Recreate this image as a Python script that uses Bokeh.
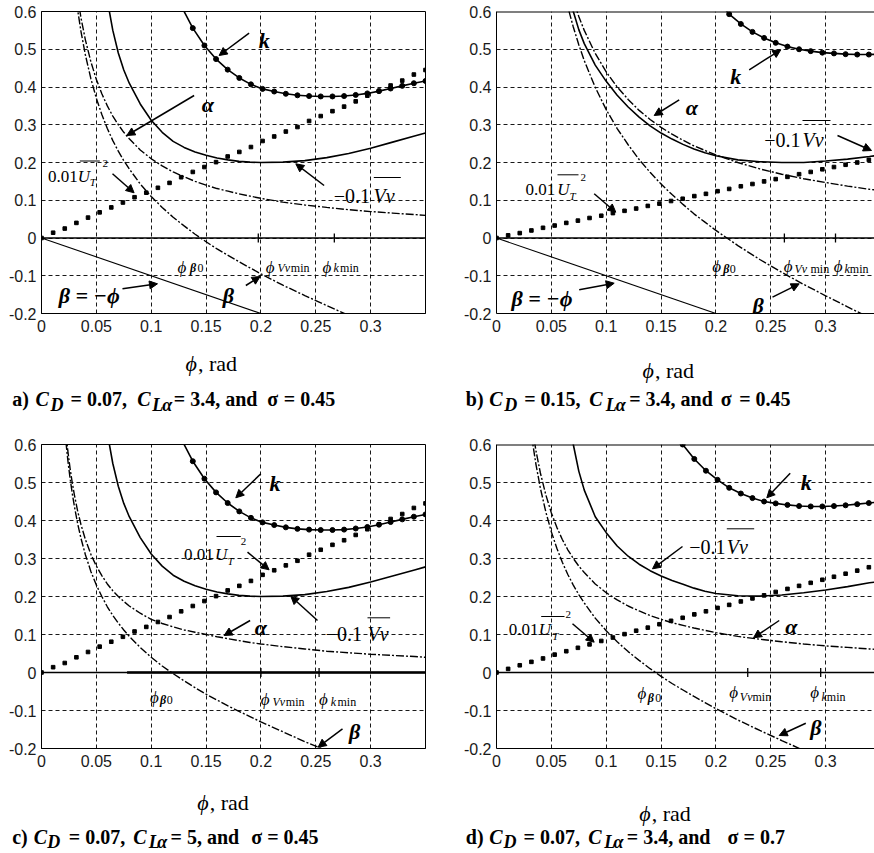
import math
from bokeh.plotting import figure
from bokeh.models import Range1d, FixedTicker, Label, Arrow, NormalHead, Span
from bokeh.layouts import column, row
from bokeh.embed import file_html
from bokeh.resources import INLINE

SERIF = "Liberation Serif"
SANS = "Liberation Sans"

# ---------------- data ----------------
x_ticks = [0, 0.05, 0.1, 0.15, 0.2, 0.25, 0.3]
x_tick_labels = ["0", "0.05", "0.1", "0.15", "0.2", "0.25", "0.3"]
y_ticks = [-0.2, -0.1, 0, 0.1, 0.2, 0.3, 0.4, 0.5, 0.6]
y_tick_labels = ["-0.2", "-0.1", "0", "0.1", "0.2", "0.3", "0.4", "0.5", "0.6"]

phi_samples = [0.0, 0.0106, 0.0212, 0.0318, 0.0424, 0.053, 0.0636, 0.0742, 0.0848, 0.0955,
               0.1061, 0.1167, 0.1273, 0.1379, 0.1485, 0.1591, 0.1697, 0.1803, 0.1909, 0.2015,
               0.2121, 0.2227, 0.2333, 0.2439, 0.2545, 0.2652, 0.2758, 0.2864, 0.297, 0.3076,
               0.3182, 0.3288, 0.3394, 0.35]
phi_fine = [0.02, 0.022, 0.024, 0.026, 0.028, 0.03, 0.033, 0.036, 0.04, 0.045, 0.05, 0.055,
            0.06, 0.065, 0.07, 0.075, 0.08, 0.09, 0.1, 0.11, 0.12, 0.13, 0.14, 0.15, 0.16,
            0.17, 0.18, 0.19, 0.2, 0.22, 0.24, 0.26, 0.28, 0.3, 0.32, 0.34, 0.35]

beta_neg_phi = [0.0, 0.2]
beta_neg_vals = [0.0, -0.2]

# panel a
a_alpha = [1.05, 0.955, 0.875, 0.808, 0.75, 0.7, 0.636, 0.583, 0.525, 0.467, 0.42, 0.382,
           0.35, 0.323, 0.3, 0.28, 0.263, 0.233, 0.21, 0.191, 0.175, 0.162, 0.15, 0.14, 0.131,
           0.124, 0.117, 0.111, 0.105, 0.095, 0.0875, 0.081, 0.075, 0.07, 0.066, 0.062, 0.06]
a_beta = [1.03, 0.933, 0.851, 0.782, 0.722, 0.67, 0.603, 0.547, 0.485, 0.422, 0.37, 0.327,
          0.29, 0.258, 0.23, 0.205, 0.183, 0.143, 0.11, 0.081, 0.055, 0.032, 0.01, -0.01,
          -0.029, -0.046, -0.063, -0.079, -0.095, -0.125, -0.1525, -0.179, -0.205, -0.23,
          -0.254, -0.278, -0.29]
a_vv = [0.75, 0.63, 0.55, 0.49, 0.445, 0.41, 0.355, 0.312, 0.28, 0.256, 0.24, 0.228, 0.219,
        0.212, 0.207, 0.203, 0.201, 0.2, 0.201, 0.205, 0.213, 0.224, 0.238, 0.254, 0.27, 0.278]
a_k = [0.69, 0.615, 0.556, 0.51, 0.474, 0.446, 0.424, 0.407, 0.395, 0.388, 0.382, 0.378,
       0.376, 0.375, 0.375, 0.376, 0.379, 0.383, 0.389, 0.396, 0.403, 0.41, 0.416]
a_ut = [0, 0.014, 0.025, 0.04, 0.054, 0.068, 0.081, 0.094, 0.108, 0.12, 0.133, 0.146, 0.161,
        0.175, 0.188, 0.201, 0.216, 0.228, 0.241, 0.257, 0.269, 0.282, 0.294, 0.31, 0.323,
        0.336, 0.348, 0.362, 0.377, 0.39, 0.404, 0.417, 0.433, 0.445]
a_marks = [0.1976, 0.2669]

# panel b
b_alpha = [0.733, 0.677, 0.629, 0.587, 0.55, 0.489, 0.44, 0.4, 0.367, 0.338, 0.314, 0.293,
           0.275, 0.259, 0.244, 0.232, 0.22, 0.2, 0.183, 0.169, 0.157, 0.147, 0.1375, 0.129, 0.126]
b_beta = [0.673, 0.612, 0.559, 0.512, 0.47, 0.399, 0.34, 0.29, 0.247, 0.208, 0.174, 0.143,
          0.115, 0.089, 0.064, 0.042, 0.02, -0.02, -0.057, -0.091, -0.123, -0.153, -0.1825,
          -0.211, -0.224]
b_vv = [0.78, 0.68, 0.6, 0.552, 0.515, 0.458, 0.415, 0.378, 0.347, 0.32, 0.297, 0.278, 0.262,
        0.248, 0.236, 0.226, 0.218, 0.207, 0.202, 0.2, 0.2, 0.204, 0.209, 0.216, 0.22]
b_k = [0.63, 0.593, 0.567, 0.546, 0.53, 0.517, 0.507, 0.5, 0.495, 0.491, 0.489, 0.487, 0.486,
       0.486, 0.487]
b_ut = [0, 0.007, 0.013, 0.02, 0.027, 0.033, 0.04, 0.046, 0.053, 0.059, 0.066, 0.072, 0.078,
        0.085, 0.091, 0.098, 0.104, 0.111, 0.117, 0.124, 0.13, 0.137, 0.143, 0.15, 0.156,
        0.162, 0.169, 0.175, 0.182, 0.188, 0.194, 0.2, 0.207, 0.213]
b_marks = [0.2624, 0.309]

# panel c
c_alpha = [0.7, 0.636, 0.583, 0.538, 0.5, 0.467, 0.424, 0.389, 0.35, 0.311, 0.28, 0.255, 0.233,
           0.215, 0.2, 0.187, 0.175, 0.156, 0.14, 0.129, 0.12, 0.112, 0.106, 0.1, 0.094, 0.089,
           0.084, 0.079, 0.075, 0.068, 0.062, 0.056, 0.052, 0.048, 0.045, 0.042, 0.04]
c_beta = [0.68, 0.614, 0.559, 0.512, 0.472, 0.437, 0.391, 0.353, 0.31, 0.266, 0.23, 0.2, 0.173,
          0.15, 0.13, 0.112, 0.095, 0.066, 0.04, 0.017, -0.003, -0.022, -0.04, -0.057, -0.0725,
          -0.088, -0.102, -0.116, -0.13, -0.156, -0.182, -0.206, -0.23, -0.253, -0.276, -0.299,
          -0.31]
c_vv = a_vv
c_k = a_k
c_ut = a_ut
c_marks = [0.2, 0.253]
c_zero_phi = [0.078, 0.35]
c_zero_vals = [0.0, 0.0]

# panel d
d_alpha = a_alpha
d_beta = a_beta
d_vv = [0.72, 0.6, 0.53, 0.48, 0.41, 0.368, 0.333, 0.306, 0.285, 0.268, 0.254, 0.242, 0.232,
        0.222, 0.214, 0.208, 0.202, 0.201, 0.204, 0.21, 0.217, 0.226, 0.236, 0.24]
d_k = [0.65, 0.6, 0.562, 0.531, 0.507, 0.486, 0.471, 0.459, 0.45, 0.445, 0.441, 0.438, 0.437,
       0.437, 0.438, 0.44, 0.443, 0.446, 0.449]
d_ut = [0, 0.0095, 0.019, 0.028, 0.037, 0.047, 0.056, 0.065, 0.074, 0.083, 0.092, 0.101, 0.11,
        0.118, 0.127, 0.136, 0.144, 0.153, 0.161, 0.17, 0.178, 0.187, 0.195, 0.203, 0.212,
        0.22, 0.228, 0.236, 0.244, 0.252, 0.26, 0.268, 0.277, 0.285]
d_marks = [0.229, 0.2955]

# ---------------- annotation layout (reference pixel positions) ----------------
STY = {"n": "normal", "i": "italic", "b": "bold", "bi": "bold italic"}
PPX = 1097.1
REF = {"a": (40.7, 313.0, 377.5), "b": (496.0, 313.0, 377.5),
       "c": (40.7, 748.0, 380.0), "d": (496.0, 748.0, 380.0)}

TEXTS = {
    "a": [(258, 40, "k", 22, "bi"), (201, 104, "α", 22, "bi"),
          (47.3, 176, "0.01", 17, "n"), (77, 176, "U", 17, "i"), (89, 181, "T", 11, "i"),
          (101.7, 163.3, "2", 11, "n"),
          (333, 195, "−0.1", 20, "n"), (372.7, 195, "Vv", 20, "i"),
          (58, 295, "β = −ϕ", 22, "bi"), (222, 295, "β", 22, "bi"),
          (176.7, 266.7, "ϕ", 17, "i"), (189.3, 267.3, "β", 12, "bi"), (196.7, 267.3, "0", 12, "n"),
          (265, 266.7, "ϕ", 17, "i"), (276.7, 267.3, "Vv", 12, "i"), (290, 267.3, "min", 12, "n"),
          (321.7, 266.7, "ϕ", 17, "i"), (332.7, 267.3, "k", 12, "i"), (339.3, 267.3, "min", 12, "n")],
    "b": [(729.7, 76, "k", 22, "bi"), (685.3, 106.7, "α", 22, "bi"),
          (763.7, 139.3, "−0.1", 20, "n"), (802, 139.3, "Vv", 20, "i"),
          (525, 189.3, "0.01", 17, "n"), (556.7, 189.3, "U", 17, "i"), (569, 195, "T", 11, "i"),
          (580, 176.7, "2", 11, "n"),
          (511, 298.3, "β = −ϕ", 22, "bi"), (752, 305, "β", 22, "bi"),
          (711.7, 266, "ϕ", 17, "i"), (722.7, 268, "β", 12, "bi"), (729.3, 268, "0", 12, "n"),
          (783.3, 266, "ϕ", 17, "i"), (794, 268, "Vv", 12, "i"), (810, 268, "min", 12, "n"),
          (833.3, 266, "ϕ", 17, "i"), (844, 268, "k", 12, "i"), (849.3, 268, "min", 12, "n")],
    "c": [(268.7, 482.7, "k", 22, "bi"), (254, 626.7, "α", 22, "bi"),
          (183.3, 554.3, "0.01", 17, "n"), (214.3, 554.3, "U", 17, "i"), (226.7, 560, "T", 11, "i"),
          (240, 541, "2", 11, "n"),
          (325, 633.3, "−0.1", 20, "n"), (366.7, 633.3, "Vv", 20, "i"),
          (348.3, 730.7, "β", 22, "bi"),
          (149.3, 696.7, "ϕ", 17, "i"), (159.3, 699.3, "β", 12, "bi"), (166, 699.3, "0", 12, "n"),
          (260, 699.3, "ϕ", 17, "i"), (271.7, 701.7, "Vv", 12, "i"), (285, 701.7, "min", 12, "n"),
          (318.3, 699.3, "ϕ", 17, "i"), (330, 701.7, "k", 12, "i"), (336.7, 701.7, "min", 12, "n")],
    "d": [(800.3, 481.7, "k", 22, "bi"), (784.7, 626, "α", 22, "bi"),
          (688.7, 546.7, "−0.1", 20, "n"), (726.3, 546.7, "Vv", 20, "i"),
          (508.3, 629.3, "0.01", 17, "n"), (538.3, 629.3, "U", 17, "i"), (551.7, 635, "T", 11, "i"),
          (565, 614, "2", 11, "n"),
          (809.7, 727.3, "β", 22, "bi"),
          (637, 693.3, "ϕ", 17, "i"), (647.3, 697.7, "β", 12, "bi"), (654.7, 697.7, "0", 12, "n"),
          (728.7, 691.7, "ϕ", 17, "i"), (739.3, 696, "Vv", 12, "i"), (752, 696, "min", 12, "n"),
          (809.7, 691.7, "ϕ", 17, "i"), (821, 696, "k", 12, "i"), (826.3, 696, "min", 12, "n")],
}

CAPTIONS_TOP = [
    (185, 363, "ϕ", 22, "i"), (197.5, 363, ", rad", 22, "n"),
    (11.7, 398, "a)", 20, "b"), (35, 398, "C", 20, "bi"), (50, 404, "D", 18, "bi"),
    (70, 398, "= 0.07,", 20, "b"), (136.7, 398, "C", 20, "bi"), (151.7, 404, "L", 18, "bi"),
    (161.7, 404, "α", 18, "bi"), (173.3, 398, "= 3.4, and", 20, "b"),
    (266.7, 398, "σ", 20, "b"), (283.3, 398, "= 0.45", 20, "b"),
    (642, 370, "ϕ", 22, "i"), (654.5, 370, ", rad", 22, "n"),
    (465.3, 398, "b)", 20, "b"), (488.7, 398, "C", 20, "bi"), (503.7, 404, "D", 18, "bi"),
    (523.7, 398, "= 0.15,", 20, "b"), (588.7, 398, "C", 20, "bi"), (605.3, 404, "L", 18, "bi"),
    (615.3, 404, "α", 18, "bi"), (628.7, 398, "= 3.4, and", 20, "b"),
    (720.3, 398, "σ", 20, "b"), (738.7, 398, "= 0.45", 20, "b"),
]
CAPTIONS_BOTTOM = [
    (196.7, 801.7, "ϕ", 22, "i"), (209.2, 801.7, ", rad", 22, "n"),
    (11.7, 836.7, "c)", 20, "b"), (33.3, 836.7, "C", 20, "bi"), (46.7, 841.5, "D", 18, "bi"),
    (68.3, 836.7, "= 0.07,", 20, "b"), (132.7, 836.7, "C", 20, "bi"), (148.3, 841.5, "L", 18, "bi"),
    (156.7, 841.5, "α", 18, "bi"), (170, 836.7, "= 5, and", 20, "b"),
    (250.7, 836.7, "σ", 20, "b"), (266.7, 836.7, "= 0.45", 20, "b"),
    (638.7, 813.3, "ϕ", 22, "i"), (651.2, 813.3, ", rad", 22, "n"),
    (465.3, 836.7, "d)", 20, "b"), (488.7, 836.7, "C", 20, "bi"), (503, 841.5, "D", 18, "bi"),
    (523, 836.7, "= 0.07,", 20, "b"), (587.7, 836.7, "C", 20, "bi"), (603.7, 841.5, "L", 18, "bi"),
    (613, 841.5, "α", 18, "bi"), (626.3, 836.7, "= 3.4, and", 20, "b"),
    (727, 836.7, "σ", 20, "b"), (743, 836.7, "= 0.7", 20, "b"),
]

ARROWS = {
    "a": [(248.3, 32.7, 218.3, 55), (193.3, 95, 126, 135), (111.7, 173.3, 133.3, 192.3),
          (323.3, 185, 295, 163.3), (121.7, 288.3, 156.7, 283.3), (245, 285, 259.3, 276)],
    "b": [(748.7, 69.3, 780.3, 49.3), (678.7, 99.3, 653.7, 115), (837, 135, 871, 150),
          (593.7, 193.3, 615.3, 211.7), (578.7, 289.3, 613.7, 282.7), (772, 296.7, 798.7, 283.3)],
    "c": [(260, 473.3, 235, 497.3), (249.3, 620, 223.3, 635), (246.7, 551.7, 268.3, 569.3),
          (316.7, 620, 290, 595.7), (341.7, 728.3, 317.3, 746.7)],
    "d": [(789.7, 472.7, 766.3, 497.3), (778.7, 620, 753, 637.3), (682, 546, 652, 568.3),
          (572, 623.3, 593.7, 641.7), (805.3, 722.7, 778.7, 735)],
}

OVERLINES = {
    "a": [(79, 160.5, 99, 160.5), (373, 177, 400, 177)],
    "b": [(557, 174.3, 578, 174.3), (802, 120, 830, 120)],
    "c": [(215.7, 536, 240, 536), (366.7, 617.3, 389.3, 617.3)],
    "d": [(540.7, 616, 564, 616), (726.3, 528.3, 753.7, 528.3)],
}


def to_data(panel, px, py):
    L, B, ppy = REF[panel]
    return (px - L) / PPX, -0.2 + (B - py) / ppy


def build(panel, width, height, xend, mbl, mbr, mbt, mbb, spec, outline=True):
    p = figure(width=width, height=height, x_range=Range1d(0, xend), y_range=Range1d(-0.2, 0.6),
               output_backend="svg", toolbar_location=None, title=None,
               min_border_left=mbl, min_border_right=mbr, min_border_top=mbt, min_border_bottom=mbb,
               background_fill_color="white", border_fill_color="white")
    if outline:
        p.outline_line_color = "black"
        p.outline_line_width = 1
    else:
        p.outline_line_color = None
        p.add_layout(Span(location=0.6, dimension="width", line_color="black", line_width=2))
    p.xaxis.ticker = FixedTicker(ticks=x_ticks)
    p.yaxis.ticker = FixedTicker(ticks=y_ticks)
    p.xgrid.ticker = FixedTicker(ticks=x_ticks)
    p.ygrid.ticker = FixedTicker(ticks=y_ticks)
    p.xaxis.major_label_overrides = dict(zip(x_ticks, x_tick_labels))
    p.yaxis.major_label_overrides = dict(zip(y_ticks, y_tick_labels))
    for ax in (p.xaxis, p.yaxis):
        ax.axis_line_color = "black"
        ax.axis_line_width = 1
        ax.major_tick_in = 0
        ax.major_tick_out = 0
        ax.minor_tick_in = 0
        ax.minor_tick_out = 0
        ax.major_label_text_font = SANS
        ax.major_label_text_font_size = "16px"
        ax.major_label_text_color = "#1a1a1a"
    p.xaxis.major_label_standoff = 6
    p.yaxis.major_label_standoff = 5
    p.grid.grid_line_color = "black"
    p.grid.grid_line_alpha = 0.9
    p.grid.grid_line_width = 1
    p.grid.grid_line_dash = "4 3"

    p.add_layout(Span(location=0, dimension="width", line_color="black", line_width=1.3))
    if "zero" in spec:
        p.line(spec["zero"][0], spec["zero"][1], line_color="black", line_width=2.6)
    if spec.get("neg"):
        p.line(beta_neg_phi, beta_neg_vals, line_color="black", line_width=1.1)
    p.line(spec["beta"][0], spec["beta"][1], line_color="black", line_width=1.4, line_dash="8 2 2 2")
    p.line(spec["alpha"][0], spec["alpha"][1], line_color="black", line_width=1.4, line_dash="8 2 2 2")
    p.line(spec["vv"][0], spec["vv"][1], line_color="black", line_width=1.6)
    p.line(spec["k"][0], spec["k"][1], line_color="black", line_width=1.6)
    p.scatter(spec["k"][0], spec["k"][1], marker="circle", size=5, color="black")
    p.scatter(phi_samples, spec["ut"], marker="square", size=3.6, color="black")
    p.scatter(spec["marks"], [0.0] * len(spec["marks"]), marker="dash", angle=math.pi / 2,
              size=9, line_color="black", line_width=1.3)

    for px, py, text, size, st in TEXTS[panel]:
        x, y = to_data(panel, px, py)
        p.add_layout(Label(x=x, y=y, text=text, text_font=SERIF, text_font_size=f"{size}px",
                           text_font_style=STY[st], text_color="black",
                           text_align="left", text_baseline="alphabetic"))
    for x0, y0, x1, y1 in ARROWS[panel]:
        xs, ys = to_data(panel, x0, y0)
        xe, ye = to_data(panel, x1, y1)
        p.add_layout(Arrow(x_start=xs, y_start=ys, x_end=xe, y_end=ye, line_color="black",
                           line_width=1.5,
                           end=NormalHead(size=8, fill_color="black", line_color="black", line_width=1)))
    for x0, y0, x1, y1 in OVERLINES[panel]:
        xs, ys = to_data(panel, x0, y0)
        xe, ye = to_data(panel, x1, y1)
        p.add_layout(Arrow(x_start=xs, y_start=ys, x_end=xe, y_end=ye, line_color="black",
                           line_width=1, start=None, end=None))
    return p


def build_caption(runs, top, width, height):
    c = figure(width=width, height=height, x_range=Range1d(0, width), y_range=Range1d(height, 0),
               output_backend="svg", toolbar_location=None, title=None, min_border=0,
               x_axis_type=None, y_axis_type=None,
               background_fill_color="white", border_fill_color="white")
    c.outline_line_color = None
    c.grid.visible = False
    for px, py, text, size, st in runs:
        c.add_layout(Label(x=px, y=py - top, text=text, text_font=SERIF,
                           text_font_size=f"{size}px", text_font_style=STY[st], text_color="black",
                           text_align="left", text_baseline="alphabetic"))
    return c


XEND_RIGHT = 378 / PPX

pa = build("a", 437, 340, 0.35, 41, 12, 11, 27,
           dict(alpha=(phi_fine, a_alpha), beta=(phi_fine, a_beta), vv=(phi_fine[11:], a_vv),
                k=(phi_samples[11:], a_k), ut=a_ut, marks=a_marks, neg=True))
pb = build("b", 437, 340, XEND_RIGHT, 59, 0, 11, 27,
           dict(alpha=(phi_fine[12:], b_alpha), beta=(phi_fine[12:], b_beta), vv=(phi_fine[12:], b_vv),
                k=(phi_samples[19:], b_k), ut=b_ut, marks=b_marks, neg=True), outline=False)
pc = build("c", 437, 355, 0.35, 41, 12, 24, 27,
           dict(alpha=(phi_fine, c_alpha), beta=(phi_fine, c_beta), vv=(phi_fine[11:], c_vv),
                k=(phi_samples[11:], c_k), ut=c_ut, marks=c_marks, zero=(c_zero_phi, c_zero_vals)))
pd_ = build("d", 437, 355, XEND_RIGHT, 59, 0, 24, 27,
            dict(alpha=(phi_fine, d_alpha), beta=(phi_fine, d_beta), vv=(phi_fine[13:], d_vv),
                 k=(phi_samples[15:], d_k), ut=d_ut, marks=d_marks), outline=False)

cap_top = build_caption(CAPTIONS_TOP, 340, 874, 80)
cap_bottom = build_caption(CAPTIONS_BOTTOM, 775, 874, 78)

layout = column(row(pa, pb, spacing=0), cap_top, row(pc, pd_, spacing=0), cap_bottom, spacing=0)

with open("out.html", "w") as f:
    f.write(file_html(layout, INLINE))
